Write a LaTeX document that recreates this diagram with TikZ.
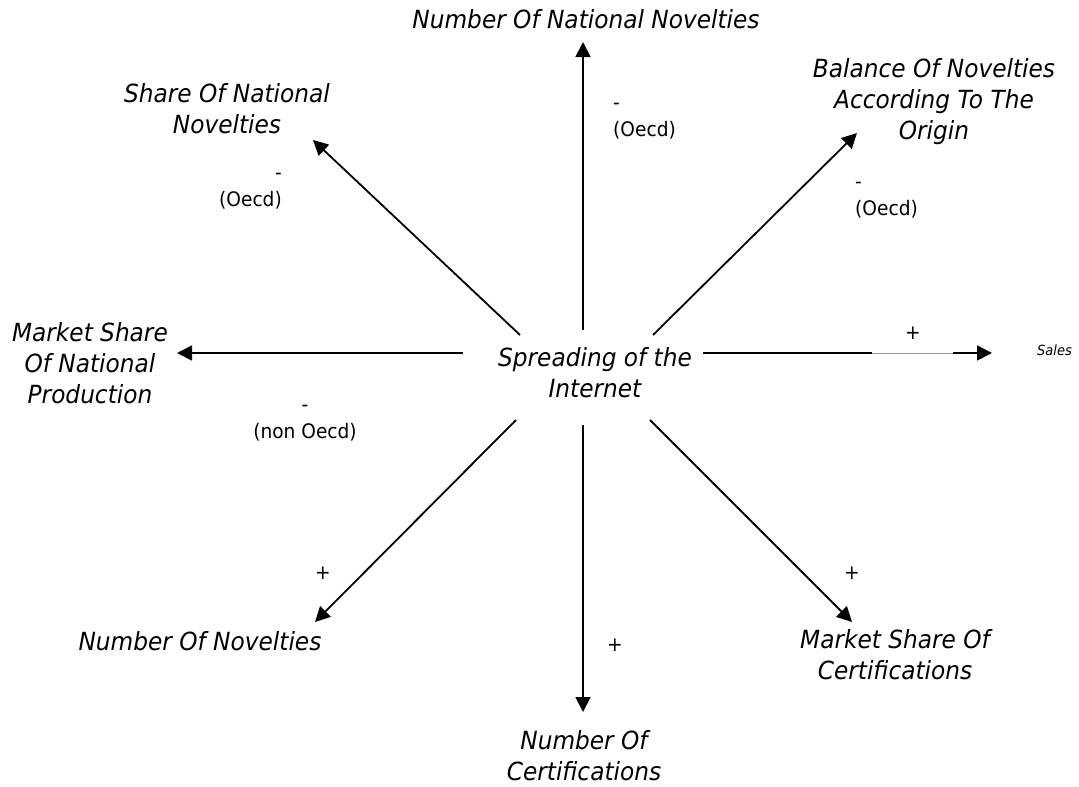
\documentclass[tikz,border=0pt]{standalone}
\usepackage{fontspec}
\setmainfont{DejaVu Sans}[FakeStretch=0.93]
\usetikzlibrary{arrows.meta}
\begin{document}
\begin{tikzpicture}[x=1pt,y=-1pt,
  lbl/.style={font=\itshape\fontsize{25}{31}\selectfont, align=center, inner sep=0pt, anchor=base},
  sgn/.style={font=\fontsize{20}{27}\selectfont, inner sep=0pt, anchor=base},
  tiny/.style={font=\itshape\fontsize{14}{17}\selectfont, inner sep=0pt, anchor=base west},
  link/.style={line width=1.8pt, -{Triangle[length=15pt,width=15pt]}},
  plain/.style={line width=1.8pt},
  faint/.style={line width=0.8pt, draw=black!40}]
\fill[white] (0,0) rectangle (1079,787);
\useasboundingbox (0,0) rectangle (1079,787);

% central factor (a multi-line node sits on the baseline of its last line)
\node[lbl] (net) at (595,397) {Spreading of the\\Internet};

% effects
\node[lbl] (nnn) at (586,28) {Number Of National Novelties};
\node[lbl] (son) at (227,133) {Share Of National\\Novelties};
\node[lbl] (bal) at (934,139) {Balance Of Novelties\\According To The\\Origin};
\node[lbl] (msn) at (90,403) {Market Share\\Of National\\Production};
\node[lbl] (nov) at (200,650) {Number Of Novelties};
\node[lbl] (noc) at (584,780) {Number Of\\Certifications};
\node[lbl] (msc) at (895,679) {Market Share Of\\Certifications};
\node[tiny] (sal) at (1037,355) {Sales};

% signs of the influences
\node[sgn, anchor=base west, align=left] (g1) at (613,136) {-\\(Oecd)};
\node[sgn, anchor=base east, align=right] (g2) at (282,206) {-\\(Oecd)};
\node[sgn, anchor=base west, align=left] (g3) at (855,215) {-\\(Oecd)};
\node[sgn, align=center] (g4) at (305,438) {-\\(non Oecd)};
\node[sgn] (p1) at (913,339) {+};
\node[sgn] (p2) at (323,579) {+};
\node[sgn] (p3) at (852,579) {+};
\node[sgn] (p4) at (615,651) {+};

% arrow ends
\coordinate (sU) at (583,330);  \coordinate (tU) at (583,42);
\coordinate (sUL) at (520,335); \coordinate (tUL) at (313,140);
\coordinate (sUR) at (653,335); \coordinate (tUR) at (857,133);
\coordinate (sL) at (463,353);  \coordinate (tL) at (177,353);
\coordinate (sR) at (703,353);  \coordinate (tR) at (992,353);
\coordinate (gA) at (872,353);  \coordinate (gB) at (953,353);
\coordinate (sDL) at (516,420); \coordinate (tDL) at (315,622);
\coordinate (sD) at (583,425);  \coordinate (tD) at (583,712);
\coordinate (sDR) at (650,420); \coordinate (tDR) at (852,622);

\draw[link] (sU) -- (tU);
\draw[link] (sUL) -- (tUL);
\draw[link] (sUR) -- (tUR);
\draw[link] (sL) -- (tL);
\draw[plain] (sR) -- (gA);
\draw[faint] (gA) -- (gB);
\draw[link] (gB) -- (tR);
\draw[link] (sDL) -- (tDL);
\draw[link] (sD) -- (tD);
\draw[link] (sDR) -- (tDR);
\end{tikzpicture}
\end{document}
